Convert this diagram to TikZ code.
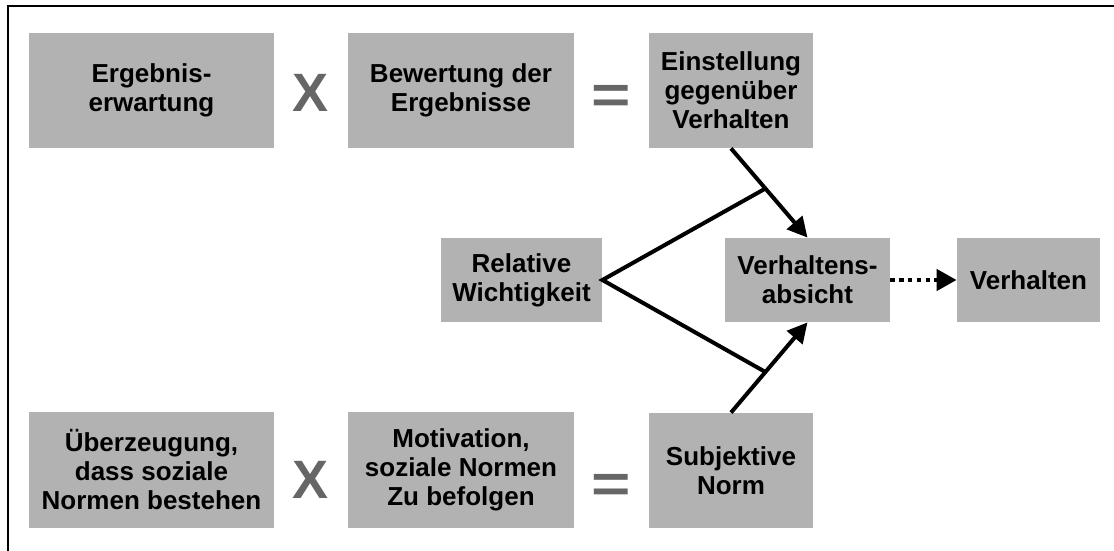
\documentclass[tikz,border=0pt]{standalone}
\usepackage{fontspec}
\setmainfont{Liberation Sans}
\usetikzlibrary{arrows.meta,calc}
\definecolor{boxgray}{HTML}{B2B2B2}
\definecolor{signgray}{HTML}{666666}
\begin{document}
\begin{tikzpicture}[x=0.5pt,y=-0.5pt,
  box/.style={fill=boxgray, inner sep=0pt, align=center,
    font=\bfseries\fontsize{13pt}{14.5pt}\selectfont},
  sign/.style={text=signgray, inner sep=0pt,
    font=\bfseries\fontsize{27pt}{27pt}\selectfont},
  link/.style={line width=2pt, line cap=butt},
  arr/.style={link, -{Triangle[length=10pt,width=10pt]}},
  dotarr/.style={line width=2.2pt, dash pattern=on 2.2pt off 2.2pt,
    -{Triangle[length=10pt,width=10.5pt]}}]
\useasboundingbox (0,0) rectangle (1114,551);

% frame
\draw[line width=1.1pt] (8,551) -- (8,6) -- (1114,6);

% top row: attitude
\node[box, minimum width=122.5pt, minimum height=57.5pt] (erw) at (151.5,90.5) {Ergebnis-\\erwartung};
\node[sign] (x1) at (310.5,92.5) {X};
\node[box, minimum width=113pt, minimum height=57.5pt] (bew) at (461,90.5) {Bewertung der\\Ergebnisse};
\node[sign] (eq1) at (611,99.5) {\scalebox{1.25}[1]{=}};
\node[box, minimum width=82pt, minimum height=57.5pt] (einst) at (731,90.5) {Einstellung\\gegenüber\\Verhalten};

% middle row
\node[box, minimum width=80.5pt, minimum height=42pt] (rel) at (521.5,280) {Relative\\Wichtigkeit};
\node[box, minimum width=82.5pt, minimum height=42pt] (abs) at (807.5,280) {Verhaltens-\\absicht};
\node[box, minimum width=71.5pt, minimum height=42pt] (verh) at (1028.5,280) {Verhalten};

% bottom row: subjective norm
\node[box, minimum width=122.5pt, minimum height=58pt] (ueb) at (151.5,470) {Überzeugung,\\dass soziale\\Normen bestehen};
\node[sign] (x2) at (311,480) {X};
\node[box, minimum width=113pt, minimum height=58pt] (mot) at (461,470) {Motivation,\\soziale Normen\\Zu befolgen};
\node[sign] (eq2) at (611,488) {\scalebox{1.25}[1]{=}};
\node[box, minimum width=82pt, minimum height=57.5pt] (subj) at (731,470.5) {Subjektive\\Norm};

% connectors
\draw[arr] (einst.south) -- (abs.north);
\draw[arr] (subj.north) -- (abs.south);
\coordinate (j1) at ($(einst.south)!0.45!(abs.north)$);
\coordinate (j2) at ($(subj.north)!0.45!(abs.south)$);
\draw[link, line join=miter] (j1) -- (rel.east) -- (j2);
\draw[dotarr] (abs.east) -- (verh.west);
\end{tikzpicture}
\end{document}
